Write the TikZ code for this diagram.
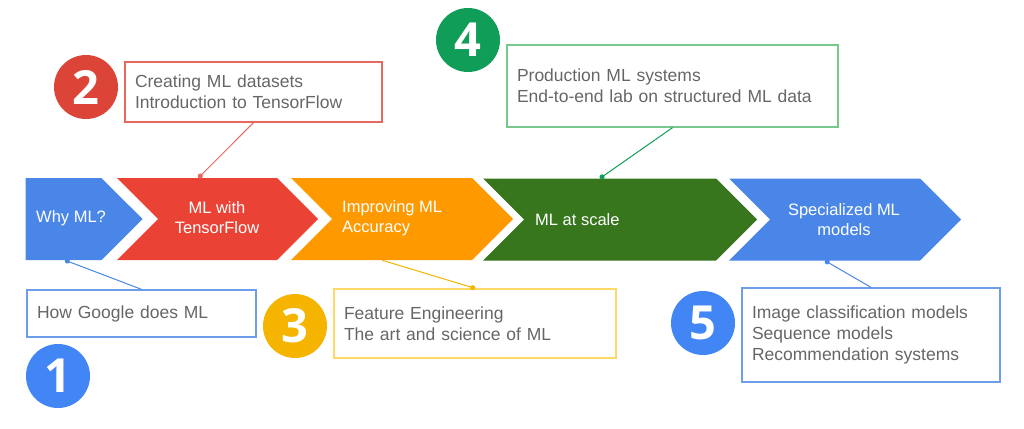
\documentclass[tikz,border=0pt]{standalone}
\usepackage{fontspec}
\setmainfont{Liberation Sans}
\newfontfamily\numfont{Open Sans}
\usepackage{xcolor}
\definecolor{gblue}{RGB}{74,134,232}
\definecolor{gred}{RGB}{234,67,53}
\definecolor{gorange}{RGB}{255,153,0}
\definecolor{ggreen}{RGB}{56,118,29}
\definecolor{cblue}{RGB}{66,133,244}
\definecolor{cred}{RGB}{219,68,55}
\definecolor{cyellow}{RGB}{244,180,0}
\definecolor{cgreen}{RGB}{15,157,88}
\definecolor{bblue}{RGB}{109,158,235}
\definecolor{bred}{RGB}{234,103,96}
\definecolor{byellow}{RGB}{255,217,102}
\definecolor{bgreen}{RGB}{120,200,140}
\definecolor{boxtext}{RGB}{102,102,102}
\usepackage{tikz}
\usetikzlibrary{shapes.symbols}
\usetikzlibrary{arrows.meta}

\tikzset{
  chevron/.style={shape=signal,signal to=east,signal from=west,inner sep=0pt,minimum height=82pt},
  chevtext/.style={text=white,inner sep=0pt,font=\fontsize{16.5}{20}\selectfont,align=left},
  topic/.style={draw,line width=1.3pt,inner xsep=10pt,inner ysep=0pt,text=boxtext,font=\fontsize{17.5}{21}\selectfont,align=left},
  badge/.style={shape=circle,minimum size=64pt,inner sep=0pt,text=white,font=\numfont\bfseries\fontsize{47}{47}\selectfont},
  pin/.style={line width=1pt}
}

\begin{document}
\begin{tikzpicture}[x=1pt,y=-1pt]
\useasboundingbox (0,0) rectangle (1024,428);
% the five course steps
\node (why) at (63.5,219) [chevron,signal from=nowhere,fill=gblue,minimum width=117pt]{};
\node (tf) at (217.5,219) [chevron,fill=gred,minimum width=201pt]{};
\node (acc) at (402,219) [chevron,fill=gorange,minimum width=222pt]{};
\node (scale) at (620,219.5) [chevron,fill=ggreen,minimum width=274pt]{};
\node (spec) at (845,219.5) [chevron,fill=gblue,minimum width=232pt]{};
\node (whytxt) at (36,218) [chevtext,anchor=west]{Why ML?};
\node (tftxt) at (217,218) [chevtext,align=center]{ML with\\TensorFlow};
\node (acctxt) at (342,218) [chevtext,anchor=west]{Improving ML\\Accuracy};
\node (scaletxt) at (535,220) [chevtext,anchor=west]{ML at scale};
\node (spectxt) at (844,220) [chevtext,align=center]{Specialized ML\\models};
% topic boxes
\node (gm) at (141.5,313.5) [topic,draw=bblue,text width=209pt,minimum height=47pt]{How Google does ML};
\node (ds) at (253.5,92) [topic,draw=bred,text width=237pt,minimum height=60pt]{Creating ML datasets\\Introduction to TensorFlow};
\node (fe) at (475,323.5) [topic,draw=byellow,text width=262pt,minimum height=69pt]{Feature Engineering\\The art and science of ML};
\node (ps) at (672.5,86) [topic,draw=bgreen,text width=311pt,minimum height=82pt]{Production ML systems\\End-to-end lab on structured ML data};
\node (im) at (871,335) [topic,draw=bblue,text width=238pt,minimum height=94pt]{Image classification models\\Sequence models\\Recommendation systems};
% numbers
\node (n1) at (58,376) [badge,fill=cblue]{1};
\node (n2) at (86,87) [badge,fill=cred]{2};
\node (n3) at (295,326) [badge,fill=cyellow]{3};
\node (n4) at (468,40) [badge,fill=cgreen]{4};
\node (n5) at (703,323) [badge,fill=cblue]{5};
% pins
\draw [pin,draw=gblue,{Circle[length=5pt]}-] ([xshift=1.5pt]why.south) -- (gm.north);
\draw [pin,draw=bred,{Circle[length=5pt]}-] ([xshift=-19pt]tf.north) -- (ds.south);
\draw [pin,draw=cyellow,-{Circle[length=5pt]}] ([xshift=-20pt]acc.south) -- (fe.north);
\draw [pin,draw=cgreen,{Circle[length=5pt]}-] ([xshift=-20pt]scale.north) -- (ps.south);
\draw [pin,draw=gblue,{Circle[length=5pt]}-] ([xshift=-20pt]spec.south) -- (im.north);
\end{tikzpicture}
\end{document}
